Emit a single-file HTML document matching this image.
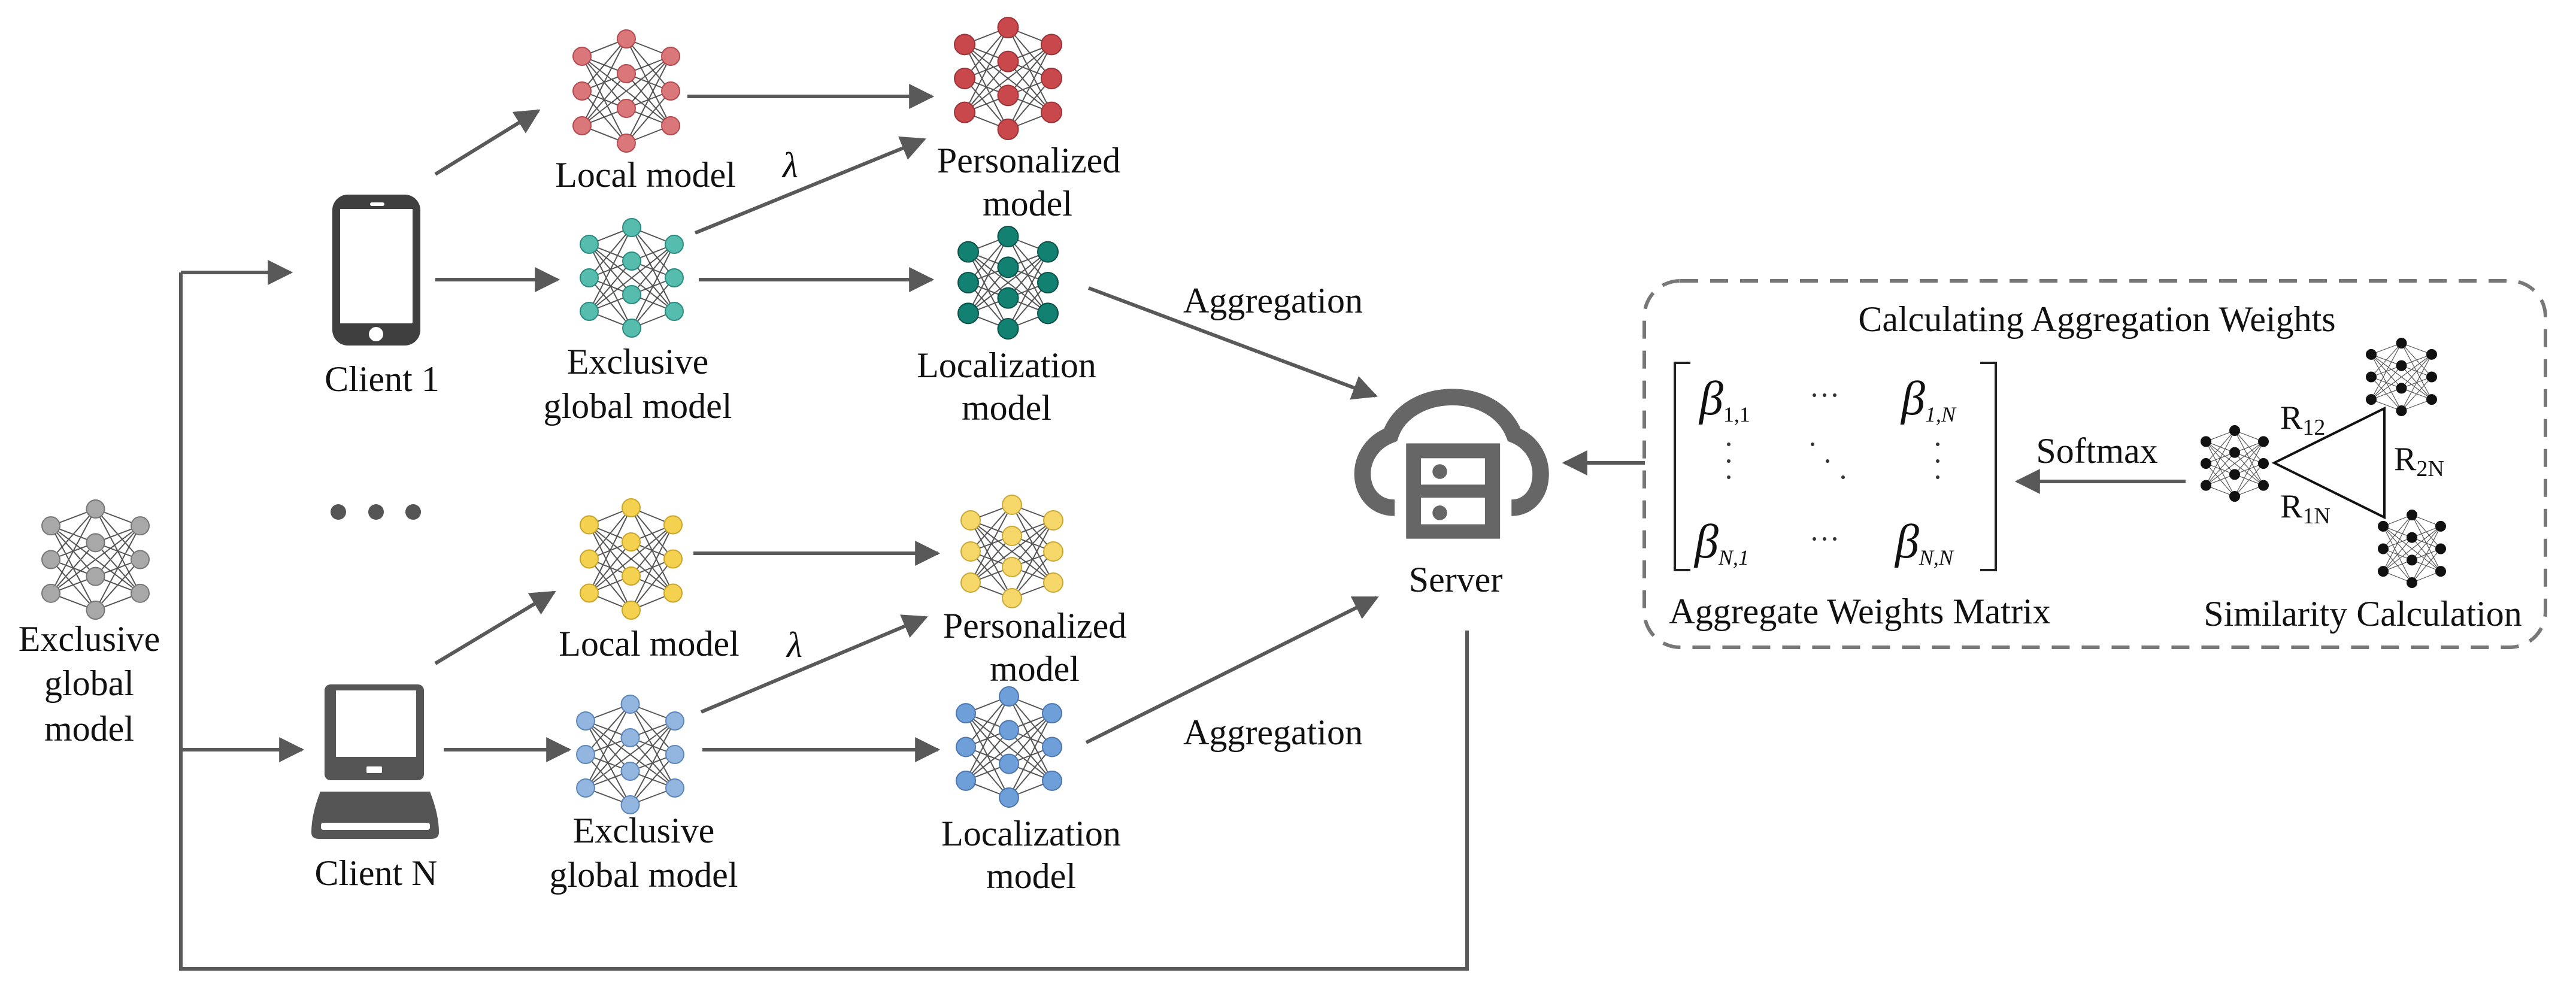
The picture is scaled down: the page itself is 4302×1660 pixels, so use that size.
<!DOCTYPE html>
<html><head><meta charset="utf-8"><style>
html,body{margin:0;padding:0;background:#fff}
svg{display:block}
text{font-family:"Liberation Serif",serif;fill:#111}
</style></head><body>
<svg id="s" width="4302" height="1660" viewBox="0 0 4302 1660" xmlns="http://www.w3.org/2000/svg">
<defs>
<marker id="ah" viewBox="0 0 10 10" refX="9" refY="5" markerWidth="7" markerHeight="7" orient="auto" markerUnits="strokeWidth">
 <path d="M0 0L10 5L0 10z" fill="#595959"/>
</marker>
</defs>
<g id="nets"></g>

<!-- phone -->
<rect x="555" y="325" width="147" height="252" rx="26" fill="#3f3f3f"/>
<rect x="568" y="349" width="121" height="191" fill="#fff"/>
<circle cx="628" cy="558" r="12" fill="#fff"/>
<rect x="618" y="338" width="24" height="6" rx="3" fill="#fff"/>
<!-- laptop -->
<rect x="542" y="1143" width="166" height="160" rx="10" fill="#555"/>
<rect x="561" y="1153" width="134" height="111" fill="#fff"/>
<rect x="612" y="1280" width="26" height="11" rx="2" fill="#fff"/>
<path d="M535 1322L718 1322Q733 1360 733 1390Q733 1401 720 1401L533 1401Q520 1401 520 1390Q520 1360 535 1322Z" fill="#555"/>
<rect x="536" y="1374" width="182" height="12" rx="4" fill="#fff"/>

<!-- dots -->
<circle cx="565" cy="855" r="13" fill="#555"/><circle cx="628" cy="855" r="13" fill="#555"/><circle cx="690" cy="855" r="13" fill="#555"/>

<!-- server cloud -->
<g transform="translate(2150,600) scale(0.3827)">
<path d="M468 648C300 648 270 400 450 330C520 120 900 100 990 330C1160 400 1130 648 978 648" fill="none" stroke="#666" stroke-width="72"/>
<rect x="518" y="367" width="410" height="416" fill="#666"/>
<rect x="583" y="432" width="279" height="115" fill="#fff"/>
<rect x="583" y="604" width="279" height="116" fill="#fff"/>
<circle cx="665" cy="490" r="32" fill="#666"/>
<circle cx="665" cy="670" r="32" fill="#666"/>
</g>

<!-- arrows -->
<g stroke="#595959" stroke-width="6" fill="none" marker-end="url(#ah)">
 <path d="M727 291L899 185"/>
 <path d="M727 467L931 467"/>
 <path d="M1148 161L1556 161"/>
 <path d="M1161 389L1543 233"/>
 <path d="M1167 467L1556 467"/>
 <path d="M1818 481L2297 661"/>
 <path d="M727 1108L925 989"/>
 <path d="M741 1252L950 1252"/>
 <path d="M1158 924L1566 924"/>
 <path d="M1171 1189L1546 1031"/>
 <path d="M1173 1252L1566 1252"/>
 <path d="M1814 1240L2299 998"/>
 <path d="M2747 773L2613 773"/>
 <path d="M3650 804L3369 804"/>
 <path d="M302 455L485 455"/>
 <path d="M302 1252L504 1252"/>
</g>
<path d="M2450 1053L2450 1618L302 1618L302 455" stroke="#595959" stroke-width="6" fill="none"/>

<!-- dashed box -->
<rect x="2746" y="469" width="1505" height="612" rx="60" fill="none" stroke="#777" stroke-width="6" stroke-dasharray="30 20"/>

<!-- triangle -->
<path d="M3982 682L3798 773L3982 864Z" fill="none" stroke="#111" stroke-width="4"/>

<!-- matrix brackets -->
<path d="M2823 606L2797 606L2797 952L2823 952M3307 606L3333 606L3333 952L3307 952" fill="none" stroke="#222" stroke-width="4"/>

<g font-size="60" text-anchor="middle">
<text x="1078" y="312">Local model</text>
<text x="1320" y="296" font-style="italic">λ</text>
<text x="1718" y="288">Personalized</text>
<text x="1716" y="360">model</text>
<text x="638" y="653">Client 1</text>
<text x="1065" y="624">Exclusive</text>
<text x="1065" y="698">global model</text>
<text x="1681" y="630">Localization</text>
<text x="1681" y="701">model</text>
<text x="2126" y="522">Aggregation</text>
<text x="149" y="1087">Exclusive</text>
<text x="149" y="1161">global</text>
<text x="149" y="1237">model</text>
<text x="1084" y="1095">Local model</text>
<text x="1327" y="1097" font-style="italic">λ</text>
<text x="1728" y="1065">Personalized</text>
<text x="1728" y="1137">model</text>
<text x="628" y="1478">Client N</text>
<text x="1075" y="1407">Exclusive</text>
<text x="1075" y="1481">global model</text>
<text x="1722" y="1412">Localization</text>
<text x="1722" y="1483">model</text>
<text x="2126" y="1243">Aggregation</text>
<text x="2431" y="988">Server</text>
<text x="3502" y="553">Calculating Aggregation Weights</text>
<text x="3502" y="773">Softmax</text>
<text x="3106" y="1041">Aggregate Weights Matrix</text>
<text x="3946" y="1045">Similarity Calculation</text>
</g>
<g font-size="56">
<text x="3808" y="716">R<tspan font-size="38" dy="10">12</tspan></text>
<text x="3998" y="785">R<tspan font-size="38" dy="10">2N</tspan></text>
<text x="3808" y="864">R<tspan font-size="38" dy="10">1N</tspan></text>
</g>
<g font-size="80" font-style="italic">
<text x="2838" y="692">β<tspan font-size="36" font-style="normal" dy="12">1,1</tspan></text>
<text x="3175" y="692">β<tspan font-size="36" dy="12">1,N</tspan></text>
<text x="2830" y="931">β<tspan font-size="36" dy="12">N,1</tspan></text>
<text x="3165" y="931">β<tspan font-size="36" dy="12">N,N</tspan></text>
</g>
<g fill="#333">
<circle cx="3030" cy="660" r="3"/><circle cx="3047" cy="660" r="3"/><circle cx="3064" cy="660" r="3"/>
<circle cx="3030" cy="900" r="3"/><circle cx="3047" cy="900" r="3"/><circle cx="3064" cy="900" r="3"/>
<circle cx="2887" cy="742" r="3"/><circle cx="2887" cy="770" r="3"/><circle cx="2887" cy="797" r="3"/>
<circle cx="3236" cy="742" r="3"/><circle cx="3236" cy="770" r="3"/><circle cx="3236" cy="797" r="3"/>
<circle cx="3027" cy="742" r="3"/><circle cx="3052" cy="770" r="3"/><circle cx="3078" cy="797" r="3"/>
</g>
<script>
(function(){
var NS="http://www.w3.org/2000/svg",g=document.getElementById("nets");
function net(x0,y0,w,h,r,fill,stroke,lw){
 var xl=x0+r,xm=x0+w/2,xr=x0+w-r,t=y0+r,H=h-2*r;
 var mid=[0,1/3,2/3,1].map(function(f){return [xm,t+f*H]});
 var side=[];[1/6,1/2,5/6].forEach(function(f){side.push([xl,t+f*H]);side.push([xr,t+f*H]);});
 var d="";
 side.forEach(function(s){mid.forEach(function(m){d+="M"+s[0]+" "+s[1]+"L"+m[0]+" "+m[1];});});
 [0,2,4].forEach(function(i){[0,2,4].forEach(function(j){if(i!=j)d+="M"+side[i][0]+" "+side[i][1]+"L"+side[j+1][0]+" "+side[j+1][1];});});
 var p=document.createElementNS(NS,"path");p.setAttribute("d",d);p.setAttribute("stroke","#555");p.setAttribute("stroke-width",lw);p.setAttribute("fill","none");g.appendChild(p);
 mid.concat(side).forEach(function(c){var e=document.createElementNS(NS,"circle");e.setAttribute("cx",c[0]);e.setAttribute("cy",c[1]);e.setAttribute("r",r);e.setAttribute("fill",fill);e.setAttribute("stroke",stroke);e.setAttribute("stroke-width",2);g.appendChild(e);});
}
net(957,50,178,204,15,"#d9777b","#b5494d",2);
net(1594,29,179,204,17,"#c9484c","#9b3336",2);
net(969,365,172,198,15,"#55bcae","#2a8c7f",2);
net(1600,378,167,188,17,"#138172","#0b5048",2);
net(969,833,170,201,15,"#f4d250","#c9a52a",2);
net(1605,827,170,188,16,"#f6d86a","#caa838",2);
net(963,1161,179,198,15,"#92b6e0","#5d86bb",2);
net(1597,1147,176,201,16,"#6f9fd8","#4a77b0",2);
net(70,835,179,199,15,"#a8a8a8","#777",2);
net(3676,711,112,126,8,"#111","#111",1.2);
net(3952,565,117,129,8,"#111","#111",1.2);
net(3972,852,112,129,8,"#111","#111",1.2);
})();
</script>
</svg>
</body></html>
